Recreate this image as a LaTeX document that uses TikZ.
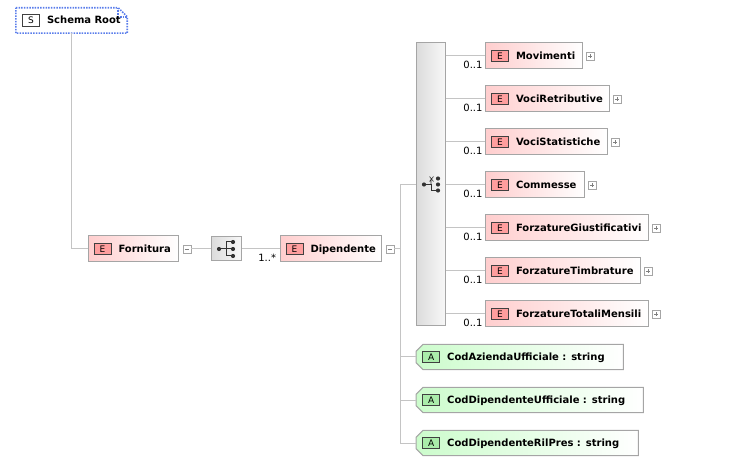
\documentclass[tikz,border=0pt]{standalone}
\usepackage{fontspec}
\setmainfont{DejaVu Sans}
\usetikzlibrary{positioning,backgrounds}
\definecolor{elemfill}{RGB}{255,206,206}
\definecolor{attrfill}{RGB}{204,252,204}
\definecolor{boxline}{RGB}{165,165,165}
\definecolor{wireline}{RGB}{196,196,196}
\definecolor{ebadgefill}{RGB}{255,158,158}
\definecolor{abadgefill}{RGB}{170,236,170}
\definecolor{badgeline}{RGB}{64,64,64}
\definecolor{rootline}{RGB}{90,125,235}
\definecolor{icondark}{RGB}{50,50,50}
% small kind badge (S, E, A) in front of a name
\newcommand\kindbadge[2]{{\setlength\fboxsep{0pt}\setlength\fboxrule{0.8pt}%
  \fcolorbox{badgeline}{#1}{\makebox[16.4pt]{\rule[-2pt]{0pt}{10.4pt}\fontsize{9}{9}\selectfont\mdseries #2}}}}
\newcommand\kindlabel[3]{\mbox{\kindbadge{#1}{#2}\hspace{7pt}#3}}
\tikzset{
  wire/.style={draw=wireline,line width=1pt},
  elem/.style={draw=boxline,line width=1pt,left color=elemfill,right color=white,minimum height=26pt,
    inner xsep=5.5pt,align=left,text width=#1,font=\fontsize{10}{12}\selectfont\bfseries},
  attr/.style={minimum height=25pt,inner xsep=6pt,align=left,text width=#1,font=\fontsize{10}{12}\selectfont\bfseries},
  attrframe/.style={draw=boxline,line width=1pt,left color=attrfill,right color=white},
  rootbox/.style={minimum height=25pt,inner xsep=6pt,align=left,text width=#1,font=\fontsize{10}{12}\selectfont\bfseries},
  rootframe/.style={draw=rootline,line width=1.6pt,dash pattern=on 1.5pt off 1.2pt},
  groupbox/.style={draw=boxline,line width=1pt,left color=black!14,right color=black!3,inner sep=0pt},
  expander/.style={draw=boxline,line width=0.8pt,fill=white,minimum size=8pt,inner sep=0pt,
    path picture={\draw[gray,line width=0.8pt] ([xshift=2pt]path picture bounding box.west) -- ([xshift=-2pt]path picture bounding box.east);}},
  plus/.style={path picture={\draw[gray,line width=0.8pt] ([xshift=2pt]path picture bounding box.west) -- ([xshift=-2pt]path picture bounding box.east)
    ([yshift=2pt]path picture bounding box.south) -- ([yshift=-2pt]path picture bounding box.north);}},
  occurs/.style={anchor=north east,inner sep=0pt,xshift=-2pt,yshift=-4.5pt,font=\fontsize{10}{12}\selectfont}
}
\begin{document}
\begin{tikzpicture}[x=1pt,y=-1pt]
\useasboundingbox (0,0) rectangle (737,473);
% schema root and first element
\node[rootbox=99pt] (root) at (71.5,20.5) {\kindlabel{white}{S}{Schema Root}};
\node[elem=79pt] (forn) at (133,249) {\kindlabel{ebadgefill}{E}{Fornitura}};
\node[expander,right=4pt of forn] (forn-pm) {};
\node[groupbox,minimum width=30pt,minimum height=24pt] (seq) at (226,249) {};
\node[elem=90pt] (dip) at (330.5,249) {\kindlabel{ebadgefill}{E}{Dipendente}};
\node[expander,right=4pt of dip] (dip-pm) {};
\coordinate (trunk) at (400,249);
\node[groupbox,minimum width=29pt,minimum height=283pt] (choice) at (430.5,184.5) {};
\draw[wire] (root) |- (forn);
\draw[wire] (forn-pm) -- (seq);
\draw[wire] (seq) -- (dip) node[pos=1,occurs,xshift=-1pt] {1..*};
\draw[wire] (dip-pm) -- (trunk);
\draw[wire] (trunk) |- (choice);
% sequence icon
\begin{scope}[shift={(seq.center)},icondark,line width=1pt]
\fill (-7,0) circle (2.1pt) (7,-7) circle (2.1pt) (7,0) circle (2.1pt) (7,7) circle (2.1pt);
\draw (-7,0) -- (7,0) (0,-7) -- (0,7) (0,-7) -- (7,-7) (0,7) -- (7,7);
\end{scope}
% choice icon
\begin{scope}[shift={(choice.center)},icondark,line width=1pt]
\fill (-6.5,0) circle (2.1pt) (7.5,-6) circle (2.1pt) (7.5,0) circle (2.1pt) (7.5,6) circle (2.1pt);
\draw (-6.5,0) -- (0.5,0) -- (0.5,6) -- (7.5,6);
\draw[line width=0.6pt] (-1,-8) -- (3,-3) (3,-8) -- (-1,-3) (0.5,-5.5) -- (0.5,0);
\end{scope}
% optional children of the choice
\foreach \n/\t/\w [count=\i from 0] in {mov/Movimenti/86pt,vret/VociRetributive/113pt,
    vstat/VociStatistiche/111pt,comm/Commesse/88pt,fgiu/ForzatureGiustificativi/152pt,
    ftim/ForzatureTimbrature/144pt,ftot/ForzatureTotaliMensili/152pt}{
  \node[elem=\w,anchor=west] (\n) at (485,56+43*\i) {\kindlabel{ebadgefill}{E}{\t}};
  \node[expander,plus,right=3pt of \n] (\n-pm) {};
  \draw[wire] (choice.east |- \n.west) -- (\n.west) node[pos=1,occurs] {0..1};
}
% attributes
\foreach \n/\t/\w [count=\i from 0] in {caz/CodAziendaUfficiale/195pt,
    cdu/CodDipendenteUfficiale/215pt,cdr/CodDipendenteRilPres/210pt}{
  \node[attr=\w,anchor=west] (\n) at (416,357+43*\i) {\kindlabel{abadgefill}{A}{\t\ : string}};
  \begin{pgfonlayer}{background}
  \shadedraw[attrframe] ([xshift=7pt]\n.north west) -- (\n.north east) -- (\n.south east)
    -- ([xshift=7pt]\n.south west) -- ([yshift=7pt]\n.south west) -- ([yshift=-7pt]\n.north west) -- cycle;
  \end{pgfonlayer}
  \draw[wire] (trunk) |- (\n.west);
}
% dog-eared dashed frame of the root
\begin{pgfonlayer}{background}
\draw[rootframe,fill=white] (root.north west) -- ([xshift=-9pt]root.north east) -- ([yshift=-9pt]root.north east)
  -- (root.south east) -- (root.south west) -- cycle;
\draw[rootframe] ([xshift=-9pt]root.north east) |- ([yshift=-9pt]root.north east);
\end{pgfonlayer}
\end{tikzpicture}
\end{document}
